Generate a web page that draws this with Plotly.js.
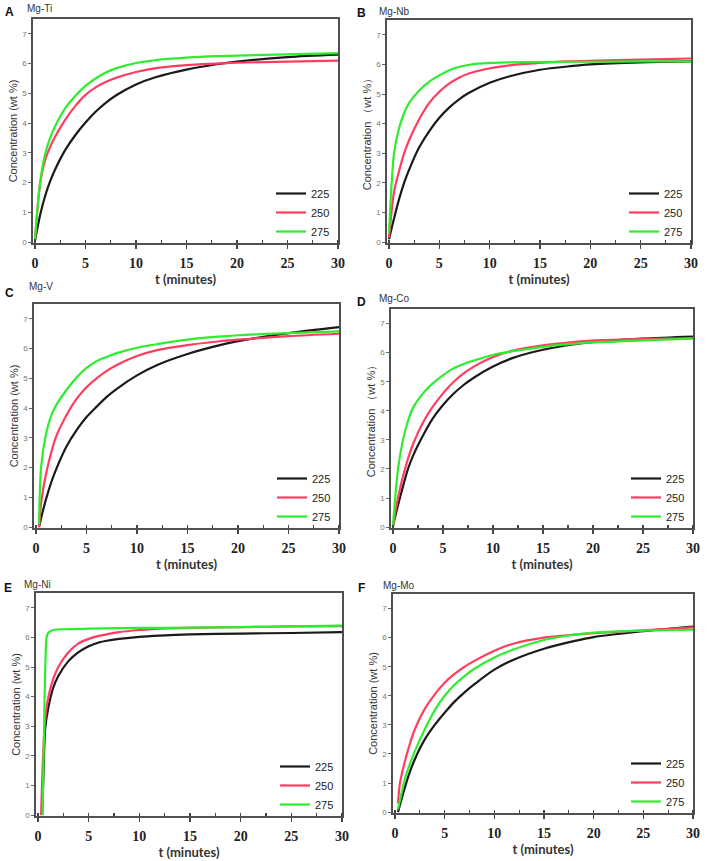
<!DOCTYPE html>
<html>
<head>
<meta charset="utf-8">
<script src="https://cdn.plot.ly/plotly-3.0.1.min.js"></script>
<style>
  html, body { margin: 0; padding: 0; background: #fff; }
  #chart { width: 708px; height: 861px; }
</style>
</head>
<body>
<div id="chart"></div>
<script>
// temperatures (legend labels)
const temps = ['225', '250', '275'];
const lineColors = ['#1a1a1a', '#ff3d5e', '#2fec2f'];

// common time grid (minutes)
const T = [0, 0.5, 1, 1.5, 2, 3, 4, 5, 6, 7, 8, 10, 12, 15, 18, 20, 25, 30];

// A  Mg-Ti
const tiT = T;
const ti225 = [0.05, 0.9, 1.55, 2.05, 2.45, 3.1, 3.6, 4.02, 4.38, 4.68, 4.93, 5.3, 5.55, 5.8, 5.98, 6.07, 6.22, 6.3];
const ti250 = [0.1, 1.95, 2.75, 3.2, 3.55, 4.12, 4.58, 4.95, 5.2, 5.38, 5.52, 5.72, 5.85, 5.95, 6.0, 6.03, 6.07, 6.1];
const ti275 = [0.1, 2.0, 2.95, 3.5, 3.9, 4.5, 4.92, 5.25, 5.5, 5.7, 5.84, 6.02, 6.12, 6.2, 6.25, 6.27, 6.31, 6.35];

// B  Mg-Nb
const nbT = T;
const nb225 = [0.1, 0.8, 1.45, 2.0, 2.45, 3.2, 3.75, 4.2, 4.55, 4.83, 5.05, 5.38, 5.6, 5.82, 5.94, 6.0, 6.07, 6.1];
const nb250 = [0.15, 1.7, 2.4, 3.0, 3.45, 4.15, 4.7, 5.08, 5.36, 5.56, 5.7, 5.87, 5.97, 6.05, 6.1, 6.12, 6.16, 6.2];
const nb275 = [0.3, 3.0, 3.85, 4.35, 4.7, 5.12, 5.42, 5.63, 5.8, 5.92, 5.99, 6.05, 6.07, 6.08, 6.09, 6.09, 6.1, 6.1];

// C  Mg-V
const vT = [0.3, 0.5, 1, 1.5, 2, 3, 4, 5, 6, 7, 8, 10, 12, 15, 18, 20, 25, 30];
const v225 = [0, 0.3, 0.95, 1.5, 1.95, 2.7, 3.25, 3.7, 4.05, 4.38, 4.65, 5.1, 5.45, 5.82, 6.1, 6.25, 6.52, 6.72];
const v250 = [0, 0.8, 1.8, 2.5, 3.05, 3.75, 4.3, 4.7, 5.0, 5.25, 5.45, 5.75, 5.95, 6.12, 6.24, 6.3, 6.42, 6.5];
const v275 = [0.1, 2.0, 3.15, 3.75, 4.1, 4.6, 5.02, 5.35, 5.58, 5.72, 5.85, 6.03, 6.15, 6.3, 6.4, 6.45, 6.52, 6.58];

// D  Mg-Co
const coT = T;
const co225 = [0.05, 0.75, 1.4, 2.0, 2.45, 3.15, 3.75, 4.2, 4.57, 4.87, 5.12, 5.52, 5.82, 6.1, 6.28, 6.36, 6.48, 6.55];
const co250 = [0.05, 1.0, 1.75, 2.35, 2.85, 3.6, 4.15, 4.6, 4.97, 5.27, 5.5, 5.85, 6.07, 6.25, 6.36, 6.41, 6.47, 6.5];
const co275 = [0.05, 2.0, 3.0, 3.65, 4.1, 4.6, 4.95, 5.22, 5.45, 5.6, 5.72, 5.92, 6.05, 6.2, 6.3, 6.35, 6.42, 6.48];

// E  Mg-Ni
const niT225 = [0.4, 0.55, 0.7, 1, 1.5, 2, 3, 4, 5, 6, 7, 8, 10, 12, 15, 20, 25, 30];
const ni225 = [0, 1.5, 2.9, 3.6, 4.3, 4.7, 5.2, 5.5, 5.7, 5.83, 5.9, 5.95, 6.02, 6.06, 6.1, 6.13, 6.15, 6.18];
const niT250 = [0.3, 0.5, 0.7, 1, 1.5, 2, 3, 4, 5, 6, 7, 8, 10, 12, 15, 20, 25, 30];
const ni250 = [0, 2.0, 3.2, 3.95, 4.6, 5.0, 5.5, 5.8, 5.95, 6.05, 6.12, 6.18, 6.25, 6.3, 6.32, 6.35, 6.37, 6.38];
const niT275 = [0.45, 0.55, 0.65, 0.75, 0.85, 1, 1.5, 3, 5, 10, 15, 20, 25, 30];
const ni275 = [0, 2.0, 4.0, 5.4, 6.0, 6.15, 6.25, 6.28, 6.3, 6.32, 6.33, 6.35, 6.37, 6.4];

// F  Mg-Mo
const moT = [0.3, 0.5, 1, 1.5, 2, 3, 4, 5, 6, 7, 8, 10, 12, 15, 18, 20, 25, 30];
const mo225 = [0, 0.25, 0.85, 1.38, 1.82, 2.5, 3.0, 3.42, 3.8, 4.12, 4.4, 4.9, 5.25, 5.62, 5.88, 6.02, 6.22, 6.38];
const mo250 = [0.3, 1.0, 1.75, 2.35, 2.85, 3.55, 4.05, 4.45, 4.75, 5.0, 5.2, 5.55, 5.8, 6.0, 6.1, 6.15, 6.25, 6.35];
const mo275 = [0.1, 0.4, 1.15, 1.65, 2.1, 2.85, 3.5, 4.0, 4.38, 4.68, 4.93, 5.32, 5.6, 5.92, 6.1, 6.17, 6.24, 6.27];

const panels = [
    { letter: 'A', name: 'Mg-Ti', ytitle: 'Concentration (wt %)',
      x: [tiT, tiT, tiT], y: [ti225, ti250, ti275],
      box: [33, 338, 19, 243], letterAt: [9, 12], nameAt: [25, 8] },
    { letter: 'B', name: 'Mg-Nb', ytitle: 'Concentration （wt %）',
      x: [nbT, nbT, nbT], y: [nb225, nb250, nb275],
      box: [387, 691, 20, 243], letterAt: [361, 13], nameAt: [377, 12] },
    { letter: 'C', name: 'Mg-V', ytitle: 'Concentration (wt %)',
      x: [vT, vT, vT], y: [v225, v250, v275],
      box: [34, 339, 304, 528], letterAt: [9, 293], nameAt: [27, 287] },
    { letter: 'D', name: 'Mg-Co', ytitle: 'Concentration （wt %）',
      x: [coT, coT, coT], y: [co225, co250, co275],
      box: [391, 693, 309, 528], letterAt: [361, 302], nameAt: [377, 298] },
    { letter: 'E', name: 'Mg-Ni', ytitle: 'Concentration (wt %)',
      x: [niT225, niT250, niT275], y: [ni225, ni250, ni275],
      box: [36, 342, 593, 816], letterAt: [8, 588], nameAt: [22, 584] },
    { letter: 'F', name: 'Mg-Mo', ytitle: 'Concentration (wt %)',
      x: [moT, moT, moT], y: [mo225, mo250, mo275],
      box: [393, 693, 594, 813], letterAt: [361, 588], nameAt: [381, 585] },
];

const W = 708, H = 861;
const px = v => v / W;
const py = v => 1 - v / H;

const traces = [];
const layout = {
    width: W, height: H,
    margin: { l: 0, r: 0, t: 0, b: 0 },
    paper_bgcolor: '#ffffff', plot_bgcolor: '#ffffff',
    showlegend: true,
    annotations: [],
};

panels.forEach((p, i) => {
    const n = i + 1;
    const xa = n === 1 ? 'x' : 'x' + n;
    const ya = n === 1 ? 'y' : 'y' + n;
    const lg = n === 1 ? 'legend' : 'legend' + n;
    const [l, r, t, b] = p.box;

    for (let k = 0; k < 3; k++) {
        traces.push({
            x: p.x[k], y: p.y[k],
            type: 'scatter', mode: 'lines',
            name: temps[k],
            xaxis: xa, yaxis: ya, legend: lg,
            line: { color: lineColors[k], width: 2.2, shape: 'spline', smoothing: 0.8 },
            hoverinfo: 'skip',
        });
    }

    layout[n === 1 ? 'xaxis' : 'xaxis' + n] = {
        domain: [px(l), px(r)], anchor: ya,
        range: [-0.2, 30], tickvals: [0, 5, 10, 15, 20, 25, 30],
        ticks: 'outside', ticklen: 4, tickwidth: 1.2, tickcolor: '#444',
        ticklabelstandoff: 3,
        minor: { dtick: 2.5, ticks: 'inside', ticklen: 3, tickcolor: '#444' },
        showline: true, mirror: true, linecolor: '#505050', linewidth: 1.6,
        showgrid: false, zeroline: false,
        tickfont: { family: 'Liberation Serif', size: 14, color: '#222', weight: 'bold' },
        title: { text: 't (minutes)', standoff: 2,
                 font: { family: 'Lato', size: 13, color: '#333', weight: 'bold' } },
    };
    layout[n === 1 ? 'yaxis' : 'yaxis' + n] = {
        domain: [py(b), py(t)], anchor: xa,
        range: [-0.03, 7.5], tickvals: [0, 1, 2, 3, 4, 5, 6, 7],
        ticks: 'outside', ticklen: 3, tickwidth: 1, tickcolor: '#666',
        showline: true, mirror: true, linecolor: '#505050', linewidth: 1.6,
        showgrid: false, zeroline: false,
        tickfont: { family: 'Liberation Sans', size: 8, color: '#777' },
        title: { text: p.ytitle, standoff: 2,
                 font: { family: 'Liberation Sans', size: 11, color: '#333' } },
    };
    layout[lg] = {
        x: px(r - 3), xanchor: 'right', y: py(b + 3), yanchor: 'bottom',
        bgcolor: 'rgba(0,0,0,0)', borderwidth: 0,
        font: { family: 'Liberation Sans', size: 11, color: '#222' },
        itemwidth: 30,
    };
    layout.annotations.push({
        xref: 'paper', yref: 'paper', x: px(p.letterAt[0]), y: py(p.letterAt[1]),
        xanchor: 'center', yanchor: 'middle',
        text: '<b>' + p.letter + '</b>', showarrow: false,
        font: { family: 'Liberation Sans', size: 12, color: '#111' },
    });
    layout.annotations.push({
        xref: 'paper', yref: 'paper', x: px(p.nameAt[0]), y: py(p.nameAt[1]),
        xanchor: 'left', yanchor: 'middle', text: p.name, showarrow: false,
        font: { family: 'Liberation Sans', size: 10, color: '#333' },
    });
});

Plotly.newPlot('chart', traces, layout, { displayModeBar: false, staticPlot: true });
</script>
</body>
</html>
